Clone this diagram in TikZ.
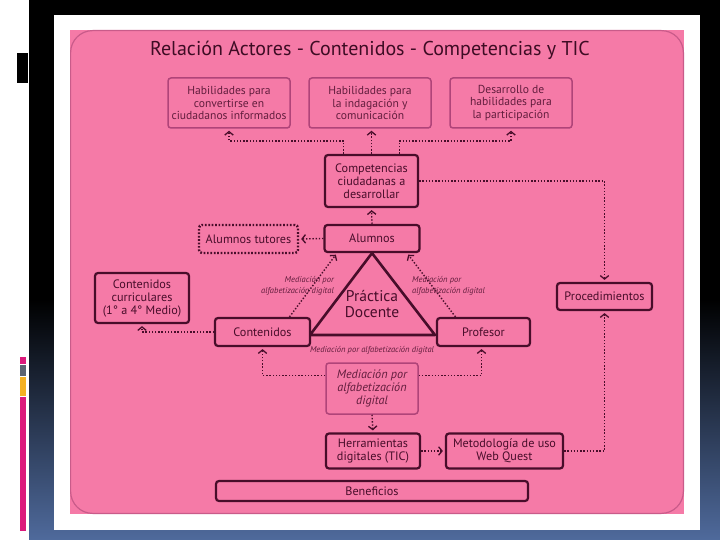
\documentclass[tikz,border=0pt]{standalone}
\usepackage{fontspec}
\setmainfont{PT Sans}
\usetikzlibrary{arrows.meta,calc}
\definecolor{pinkbg}{HTML}{F57AA7}
\definecolor{maroon}{HTML}{480D2A}
\definecolor{lightm}{HTML}{B04479}
\definecolor{slateb}{HTML}{4F6A9C}
\definecolor{barmag}{HTML}{DC1A7C}
\definecolor{bargrey}{HTML}{5C6472}
\definecolor{baryel}{HTML}{F4B123}
\definecolor{rimpink}{HTML}{C95B8A}
\definecolor{titlec}{HTML}{3E0C24}
\begin{document}
\begin{tikzpicture}[x=1pt,y=-1pt,
  nbox/.style={draw=maroon, line width=2.2pt, rounded corners=3pt, fill=pinkbg, text=maroon,
    align=center, inner sep=1pt, font=\fontsize{12.2}{13}\selectfont},
  softbox/.style={nbox, draw=lightm, line width=1.5pt, text=maroon!85!pinkbg},
  topfont/.style={font=\fontsize{11.6}{12.6}\selectfont},
  conn/.style={draw=maroon, line width=1.4pt, dash pattern=on 1.4pt off 1.8pt,
    -{Straight Barb[length=3.5pt,width=8.5pt,line width=1.3pt]}, shorten >=2pt},
  medlbl/.style={text=maroon!85!pinkbg, font=\fontsize{8.5}{11.5}\selectfont\itshape, inner sep=0pt}
]
% background
\fill[white] (0,0) rectangle (720,540);
\useasboundingbox (0,0) rectangle (720,540);
\fill[black] (29,0) rectangle (720,300);
\shade[top color=black, bottom color=slateb] (29,299) rectangle (720,540);
\fill[black] (17,53) rectangle (28,83);
\fill[barmag] (20,357) rectangle (26,364);
\fill[bargrey] (20,365) rectangle (26,376);
\fill[baryel] (20,377) rectangle (26,396);
\fill[barmag] (20,397) rectangle (26,531);
\fill[white] (54,15) rectangle (700,530);
\fill[pinkbg] (70,30) rectangle (684,514);
\draw[rimpink, line width=1.2pt, rounded corners=22pt] (70.6,30.6) rectangle (683.4,513.4);

% title
\node[text=titlec, font=\fontsize{20}{24}\selectfont] (title) at (370,50)
  {Relación Actores - Contenidos - Competencias y TIC};

% nodes
\node[softbox, topfont, minimum width=122pt, minimum height=50pt] (top1) at (229,103)
  {Habilidades para\\convertirse en\\ciudadanos informados};
\node[softbox, topfont, minimum width=122pt, minimum height=50pt] (top2) at (370,103)
  {Habilidades para\\la indagación y\\comunicación};
\node[softbox, topfont, minimum width=122pt, minimum height=50pt] (top3) at (511,103)
  {Desarrollo de\\habilidades para\\la participación};
\node[nbox, minimum width=93pt, minimum height=52pt] (comp) at (371.5,181)
  {Competencias\\ciudadanas a\\desarrollar};
\node[nbox, minimum width=95pt, minimum height=27pt] (alum) at (372,238.5) {Alumnos};

% triangle
\draw[maroon, line width=2.6pt, line join=round, fill=pinkbg] (alum.south) -- (310,335) -- (435,335) -- cycle;
\node[text=maroon, align=center, font=\fontsize{15.5}{16}\selectfont] (prac) at (372,304) {Práctica\\Docente};

\node[nbox, draw=maroon, dash pattern=on 1.7pt off 1.7pt, line width=2.4pt, minimum width=99pt, minimum height=28pt] (tut) at (248.5,239) {Alumnos tutores};
\node[nbox, minimum width=94pt, minimum height=50pt] (ccur) at (142,298)
  {Contenidos\\curriculares\\(1° a 4° Medio)};
\node[nbox, minimum width=95pt, minimum height=28pt] (cont) at (262.5,332) {Contenidos};
\node[nbox, minimum width=93pt, minimum height=28pt] (prof) at (483.5,332) {Profesor};
\node[nbox, minimum width=95pt, minimum height=27pt] (proc) at (604.5,296.5) {Procedimientos};
\node[softbox, minimum width=92pt, minimum height=51pt, font=\fontsize{12.2}{13}\selectfont\itshape] (med) at (372,388.5)
  {Mediación por\\alfabetización\\digital};
\node[nbox, minimum width=94pt, minimum height=35pt] (herr) at (373,451)
  {Herramientas\\digitales (TIC)};
\node[nbox, minimum width=117pt, minimum height=35pt] (meto) at (504.5,451)
  {Metodología de uso\\Web Quest};
\node[nbox, minimum width=312pt, minimum height=20pt] (ben) at (372,491) {Beneficios};

% labels
\node[medlbl, align=right, anchor=east] (lblL) at (334,286) {Mediación por\\alfabetización digital};
\node[medlbl, align=left, anchor=west] (lblR) at (412,286) {Mediación por\\alfabetización digital};
\node[medlbl] (lblB) at (372,350.5) {Mediación por alfabetización digital};

% connectors
\draw[conn] ([xshift=-28pt]comp.north) -- ++(0,-13) -| (top1.south);
\draw[conn] (comp.north) -- (comp.north |- top2.south);
\draw[conn] ([xshift=28pt]comp.north) -- ++(0,-13) -| (top3.south);
\draw[conn] (comp.east) -| (proc.north);
\draw[conn] (alum.north) -- (comp.south);
\draw[conn] (alum.west) -- (tut.east);
\draw[conn] ([xshift=27pt]cont.north) -- ([xshift=-35pt]alum.south);
\draw[conn] ([xshift=-28pt]prof.north) -- ([xshift=35pt]alum.south);
\draw[conn] (cont.west) -| (ccur.south);
\draw[conn] ([yshift=13pt]med.west) -| (cont.south);
\draw[conn] ([yshift=13pt]med.east) -| ([xshift=-2pt]prof.south);
\draw[conn] (med.south) -- (herr.north);
\draw[conn] (herr.east) -- (meto.west);
\draw[conn] (meto.east) -| (proc.south);
\end{tikzpicture}
\end{document}
